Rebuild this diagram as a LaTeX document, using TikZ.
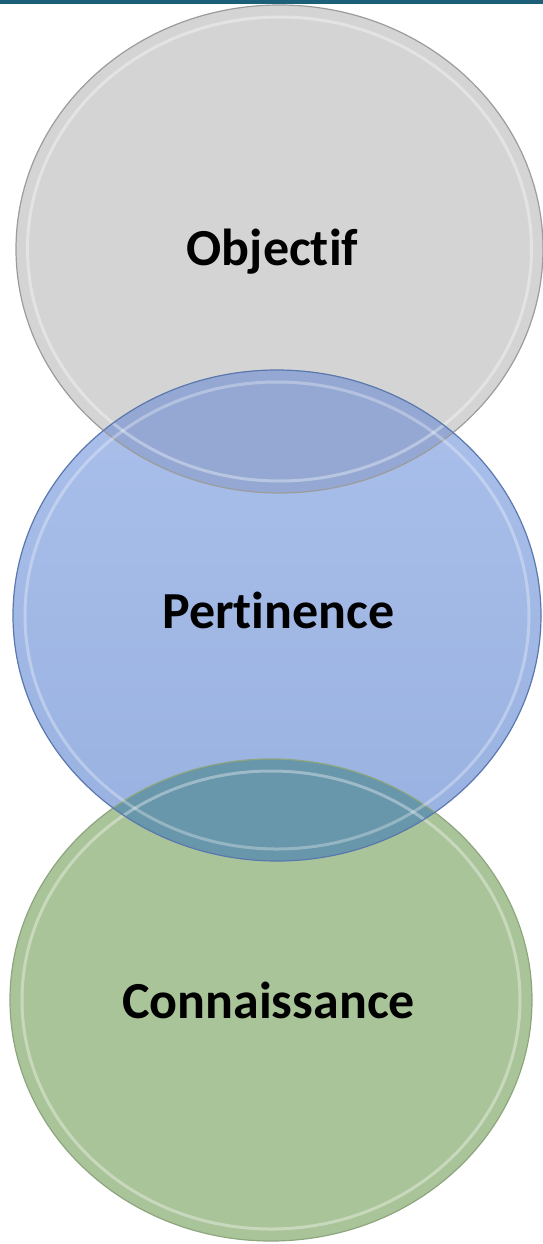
\documentclass[tikz,border=0pt]{standalone}
\usepackage{fontspec}
\setmainfont{Carlito}[Ligatures=NoCommon]

\definecolor{barteal}{HTML}{1D5F78}
\definecolor{grayfill}{HTML}{D4D4D4}
\definecolor{grayrim}{HTML}{9C9C9C}
\definecolor{bluetop}{HTML}{ABC0EB}
\definecolor{bluebot}{HTML}{98B1E0}
\definecolor{bluerim}{HTML}{5B78AE}
\definecolor{greenfill}{HTML}{AAC49A}
\definecolor{greenrim}{HTML}{8DA67F}
\definecolor{graybluemix}{HTML}{94A8D3}
\definecolor{bluegreenmix}{HTML}{6896AA}

\begin{document}
\begin{tikzpicture}[x=1pt, y=-1pt,
    rim/.style={line width=1.2pt},
    glow/.style={white, opacity=0.35, line width=3pt},
    bubbletext/.style={font=\fontsize{52}{60}\selectfont\bfseries, text=black, anchor=base}]

    \useasboundingbox (0,0) rectangle (543,1244);

    \def\grayshape{(279.5,249) ellipse [x radius=263.5, y radius=244]}
    \def\blueshape{(277,615.5) ellipse [x radius=264, y radius=245.5]}
    \def\greenshape{(271,1000) ellipse [x radius=261, y radius=241]}

    % top bar
    \fill[barteal] (0,0) rectangle (543,4);

    % the three bubbles
    \fill[grayfill] \grayshape;
    \fill[greenfill] \greenshape;
    \shade[top color=bluetop, bottom color=bluebot] \blueshape;

    % overlaps
    \begin{scope}
        \clip \grayshape;
        \fill[graybluemix] \blueshape;
    \end{scope}
    \begin{scope}
        \clip \greenshape;
        \fill[bluegreenmix] \blueshape;
    \end{scope}

    % rims
    \draw[glow] (279.5,249) ellipse [x radius=252, y radius=232];
    \draw[rim, grayrim] \grayshape;
    \draw[glow] (271,1000) ellipse [x radius=249, y radius=229];
    \draw[rim, greenrim] \greenshape;
    \draw[glow, opacity=0.3] (277,615.5) ellipse [x radius=252, y radius=233.5];
    \draw[rim, bluerim] \blueshape;

    % labels
    \node[bubbletext] (objectif) at (272.5,265) {Object\kern0pt if};
    \node[bubbletext] (pertinence) at (278.5,628) {Pert\kern0pt inence};
    \node[bubbletext] (connaissance) at (268.5,1018) {Connaissance};
\end{tikzpicture}
\end{document}
